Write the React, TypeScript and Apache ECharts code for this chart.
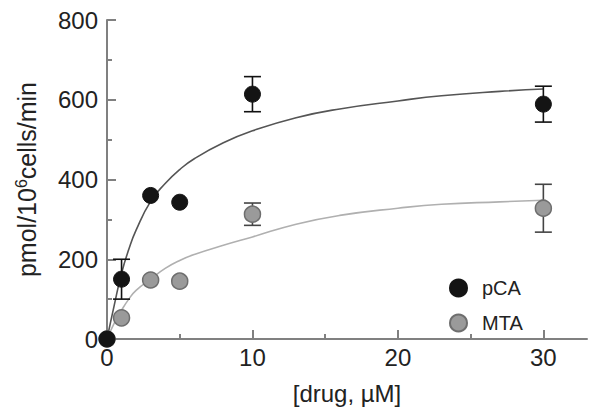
import React, { useEffect, useRef } from "react";
import * as echarts from "echarts";

// Measured data
const doses = [0, 1, 3, 5, 10, 30];
const pcaMean = [0, 150, 360, 343, 614, 589];
const pcaErr = [0, 50, 0, 0, 44, 45];
const mtaMean = [0, 53, 148, 145, 313, 328];
const mtaErr = [0, 0, 0, 0, 28, 60];

// Fitted curves
const pcaFitX = [0, 0.5, 1, 1.5, 2, 3, 4, 5, 6, 8, 10, 13, 16, 20, 23, 27, 30];
const pcaFitY = [0, 85, 165, 225, 273, 345, 390, 425, 452, 492, 522, 555, 577, 597, 610, 621, 627];
const mtaFitX = [0, 0.5, 1, 1.5, 2, 3, 4, 5, 6, 8, 10, 13, 16, 20, 23, 27, 30];
const mtaFitY = [0, 40, 72, 100, 122, 150, 177, 197, 212, 235, 256, 288, 310, 328, 338, 344, 348];

const xMajor = [0, 10, 20, 30];
const xMinor = [5, 15, 25];

const FONT = "'Liberation Sans', Arial, Helvetica, sans-serif";
const AXIS_COLOR = "#808080";

function errData(means: number[], errs: number[]) {
  return doses
    .map((d, i) => [d, means[i] - errs[i], means[i] + errs[i], errs[i]])
    .filter((r) => r[3] > 0);
}

function errSeries(name: string, means: number[], errs: number[], color: string) {
  return {
    name,
    type: "custom",
    z: 3,
    data: errData(means, errs),
    renderItem: (params: any, api: any) => {
      const x = api.value(0);
      const lo = api.coord([x, api.value(1)]);
      const hi = api.coord([x, api.value(2)]);
      const w = 8.5;
      const style = { stroke: color, lineWidth: 1.6 };
      return {
        type: "group",
        children: [
          { type: "line", shape: { x1: lo[0], y1: lo[1], x2: hi[0], y2: hi[1] }, style },
          { type: "line", shape: { x1: lo[0] - w, y1: lo[1], x2: lo[0] + w, y2: lo[1] }, style },
          { type: "line", shape: { x1: hi[0] - w, y1: hi[1], x2: hi[0] + w, y2: hi[1] }, style },
        ],
      };
    },
  };
}

export default function App() {
  const ref = useRef<HTMLDivElement>(null);
  useEffect(() => {
    if (!ref.current) return;
    const chart = echarts.init(ref.current, undefined, { renderer: "svg" });
    chart.setOption({
      animation: false,
      backgroundColor: "#ffffff",
      textStyle: { fontFamily: FONT },
      grid: { left: 107, right: 13, top: 20, bottom: 78 },
      legend: {
        data: ["pCA", "MTA"],
        orient: "vertical",
        left: 444,
        top: 273,
        itemWidth: 17,
        itemHeight: 17,
        itemGap: 15,
        icon: "circle",
        textStyle: { fontSize: 20, color: "#222", fontFamily: FONT, padding: [0, 0, 0, 10] },
      },
      xAxis: [
        {
          type: "value",
          min: 0,
          max: 33,
          name: "[drug, \u00b5M]",
          nameLocation: "middle",
          nameGap: 42,
          nameTextStyle: { fontSize: 24, color: "#222", fontFamily: FONT },
          axisLine: { show: true, lineStyle: { color: AXIS_COLOR, width: 2 } },
          axisTick: { show: true, inside: true, length: 9, customValues: xMajor, lineStyle: { color: AXIS_COLOR, width: 2 } },
          axisLabel: { customValues: xMajor, fontSize: 24, color: "#222", margin: 6, fontFamily: FONT },
          splitLine: { show: false },
        },
        {
          type: "value",
          min: 0,
          max: 33,
          position: "bottom",
          axisLine: { show: false },
          axisTick: { show: true, inside: true, length: 5, customValues: xMinor, lineStyle: { color: AXIS_COLOR, width: 2 } },
          axisLabel: { show: false },
          splitLine: { show: false },
        },
      ],
      yAxis: {
        type: "value",
        min: 0,
        max: 800,
        interval: 200,
        name: "pmol/10{sup|6}cells/min",
        nameLocation: "middle",
        nameGap: 66,
        nameTextStyle: {
          fontSize: 25,
          color: "#222",
          fontFamily: FONT,
          rich: {
            sup: { fontSize: 16, color: "#222", fontFamily: FONT, verticalAlign: "top", padding: [0, 0, 12, 0] },
          },
        },
        axisLine: { show: true, lineStyle: { color: AXIS_COLOR, width: 2 } },
        axisTick: { show: true, inside: true, length: 9, lineStyle: { color: AXIS_COLOR, width: 2 } },
        minorTick: { show: true, splitNumber: 2, length: 5, lineStyle: { color: AXIS_COLOR, width: 2 } },
        axisLabel: { fontSize: 24, color: "#222", margin: 9, fontFamily: FONT },
        splitLine: { show: false },
      },
      series: [
        {
          name: "pCA fit",
          type: "line",
          smooth: true,
          showSymbol: false,
          silent: true,
          z: 1,
          data: pcaFitX.map((x, i) => [x, pcaFitY[i]]),
          lineStyle: { color: "#555555", width: 1.6 },
        },
        {
          name: "MTA fit",
          type: "line",
          smooth: true,
          showSymbol: false,
          silent: true,
          z: 1,
          data: mtaFitX.map((x, i) => [x, mtaFitY[i]]),
          lineStyle: { color: "#b0b0b0", width: 1.6 },
        },
        errSeries("pCA err", pcaMean, pcaErr, "#111111"),
        errSeries("MTA err", mtaMean, mtaErr, "#444444"),
        {
          name: "MTA",
          type: "scatter",
          symbol: "circle",
          symbolSize: 16,
          z: 4,
          data: doses.map((d, i) => [d, mtaMean[i]]),
          itemStyle: { color: "#9a9a9a", borderColor: "#6e6e6e", borderWidth: 1.5, opacity: 1 },
        },
        {
          name: "pCA",
          type: "scatter",
          symbol: "circle",
          symbolSize: 16,
          z: 5,
          data: doses.map((d, i) => [d, pcaMean[i]]),
          itemStyle: { color: "#141414", borderColor: "#141414", borderWidth: 1, opacity: 1 },
        },
      ],
    });
    return () => chart.dispose();
  }, []);
  return <div ref={ref} style={{ width: 600, height: 417, margin: -8 }} />;
}
